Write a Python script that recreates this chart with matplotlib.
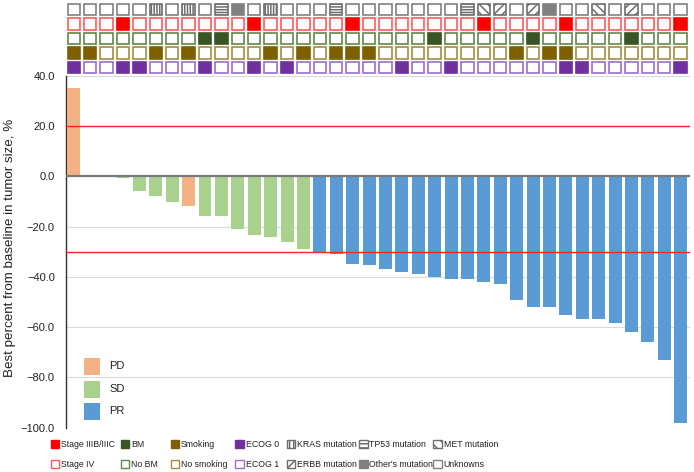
import matplotlib
matplotlib.use("Agg")
import matplotlib.pyplot as plt
from matplotlib.patches import Rectangle
from matplotlib.ticker import FuncFormatter

plt.rcParams['font.family'] = ['Liberation Sans', 'DejaVu Sans']
plt.rcParams['hatch.linewidth'] = 1.1

# ---------------- data ----------------
values = [35.2, 0.6, 0.0, -0.8, -5.6, -7.8, -10.0, -11.6, -15.7, -15.9,
          -21.0, -23.4, -24.2, -26.1, -29.0, -29.9, -30.9, -34.8, -35.2, -36.9,
          -38.1, -38.9, -39.9, -40.9, -40.9, -42.1, -42.9, -49.0, -51.9, -51.9,
          -55.2, -56.9, -56.9, -58.4, -61.8, -65.7, -73.0, -98.2]
response = ['PD', 'SD', 'SD', 'SD', 'SD', 'SD', 'SD', 'PD', 'SD', 'SD',
            'SD', 'SD', 'SD', 'SD', 'SD', 'PR', 'PR', 'PR', 'PR', 'PR',
            'PR', 'PR', 'PR', 'PR', 'PR', 'PR', 'PR', 'PR', 'PR', 'PR',
            'PR', 'PR', 'PR', 'PR', 'PR', 'PR', 'PR', 'PR']
mutation = ['U', 'U', 'U', 'U', 'U', 'KRAS', 'U', 'KRAS', 'U', 'TP53',
            'Other', 'U', 'KRAS', 'U', 'U', 'U', 'TP53', 'U', 'U', 'U',
            'U', 'U', 'U', 'U', 'TP53', 'MET', 'ERBB', 'U', 'ERBB', 'Other',
            'U', 'U', 'MET', 'U', 'ERBB', 'U', 'U', 'U']
stage = ['IV', 'IV', 'IV', 'IIIB', 'IV', 'IV', 'IV', 'IV', 'IV', 'IV',
         'IV', 'IIIB', 'IV', 'IV', 'IV', 'IV', 'IV', 'IIIB', 'IV', 'IV',
         'IV', 'IV', 'IV', 'IV', 'IV', 'IIIB', 'IV', 'IV', 'IV', 'IV',
         'IIIB', 'IV', 'IV', 'IV', 'IV', 'IV', 'IV', 'IIIB']
bm = ['N', 'N', 'N', 'N', 'N', 'N', 'N', 'N', 'Y', 'Y',
      'N', 'N', 'N', 'N', 'N', 'N', 'N', 'N', 'N', 'N',
      'N', 'N', 'Y', 'N', 'N', 'N', 'N', 'N', 'Y', 'N',
      'N', 'N', 'N', 'N', 'Y', 'N', 'N', 'N']
smoking = ['Y', 'Y', 'N', 'N', 'N', 'Y', 'N', 'Y', 'N', 'N',
           'N', 'N', 'Y', 'N', 'Y', 'N', 'Y', 'Y', 'Y', 'N',
           'N', 'N', 'N', 'N', 'N', 'N', 'N', 'Y', 'N', 'Y',
           'Y', 'N', 'N', 'N', 'N', 'N', 'N', 'N']
ecog = [0, 1, 1, 0, 0, 1, 1, 1, 0, 1,
        1, 0, 1, 0, 1, 1, 1, 1, 1, 1,
        0, 1, 1, 0, 1, 1, 1, 1, 1, 1,
        0, 0, 1, 1, 1, 1, 1, 0]
yticks = [40, 20, 0, -20, -40, -60, -80, -100]
ref_lines = [20, -30]

# ---------------- styles ----------------
resp_colors = {'PD': '#F4B183', 'SD': '#A9D18E', 'PR': '#5B9BD5'}
RED, RED_L = '#FF0000', '#FF5A5A'
GRN, GRN_L = '#375623', '#5E8A45'
BRN, BRN_L = '#7F6000', '#A88B3C'
PUR, PUR_L = '#7030A0', '#9B6FCB'
GRY = '#808080'
HGRY = '#6E6E6E'
hatches = {'KRAS': '||||||', 'TP53': '------', 'MET': '\\\\\\\\', 'ERBB': '////', 'Other': None, 'U': None}

W, H = 694, 472
fig = plt.figure(figsize=(W / 100, H / 100), dpi=100)


def px(x0, y0, x1, y1):
    return [x0 / W, 1 - y1 / H, (x1 - x0) / W, (y1 - y0) / H]


XL = (-0.476, 37.57)

# ---------------- main waterfall ----------------
ax = fig.add_axes(px(66, 76, 690, 427.7))
xs = list(range(len(values)))
ax.bar(xs, values, width=0.79, color=[resp_colors[r] for r in response], zorder=3)
ax.set_xlim(*XL)
ax.set_ylim(-100, 40)
ax.set_yticks(yticks)
ax.yaxis.set_major_formatter(FuncFormatter(lambda v, p: f'{v:.1f}'.replace('-', '\u2212')))
ax.tick_params(axis='y', length=0, pad=8, labelsize=8, labelcolor='#222222')
ax.set_xticks([])
ax.grid(axis='y', color='#DADADA', lw=0.8, zorder=0)
ax.axhline(0, color='#7A7A7A', lw=1.6, zorder=4)
for r in ref_lines:
    ax.axhline(r, color='#FF2020', lw=1.0, zorder=5)
for s in ['top', 'right', 'bottom']:
    ax.spines[s].set_visible(False)
ax.spines['left'].set_color('#303030')
ax.spines['left'].set_linewidth(1.0)
fig.text(10 / W, 1 - 248 / H, 'Best percent from baseline in tumor size, %',
         rotation=90, ha='center', va='center', fontsize=9.6, color='#222222')

# ---------------- annotation grid ----------------
gax = fig.add_axes(px(66, 0, 690, 76))
gax.set_xlim(*XL)
gax.set_ylim(4.588, -0.671)
gax.axis('off')
bw, bh = 0.76, 0.80


def box(axx, x, y, face, edge, hatch=None):
    axx.add_patch(Rectangle((x - bw / 2, y - bh / 2), bw, bh, facecolor=face,
                            edgecolor=edge, lw=1.2, hatch=hatch))


for i in xs:
    m = mutation[i]
    box(gax, i, 0, GRY if m == 'Other' else 'white', GRY if hatches[m] is None else HGRY, hatches[m])
    box(gax, i, 1, RED if stage[i] == 'IIIB' else 'white', RED if stage[i] == 'IIIB' else RED_L)
    box(gax, i, 2, GRN if bm[i] == 'Y' else 'white', GRN if bm[i] == 'Y' else GRN_L)
    box(gax, i, 3, BRN if smoking[i] == 'Y' else 'white', BRN if smoking[i] == 'Y' else BRN_L)
    box(gax, i, 4, PUR if ecog[i] == 0 else 'white', PUR if ecog[i] == 0 else PUR_L)

# ---------------- legends ----------------
oax = fig.add_axes([0, 0, 1, 1], zorder=10)
oax.set_xlim(0, W)
oax.set_ylim(H, 0)
oax.axis('off')
oax.patch.set_alpha(0)

for k, (lab, yc) in enumerate([('PD', 366), ('SD', 389), ('PR', 411.5)]):
    oax.add_patch(Rectangle((84, yc - 8.5), 16, 17, facecolor=resp_colors[lab], edgecolor='none'))
    oax.text(109, yc, lab, fontsize=8, va='center', ha='left', color='#222222')

row1 = [(50.7, 'Stage IIIB/IIIC', RED, RED, None), (120.7, 'BM', GRN, GRN, None),
        (170.7, 'Smoking', BRN, BRN, None), (235.3, 'ECOG 0', PUR, PUR, None),
        (286.7, 'KRAS mutation', 'white', HGRY, '||||'), (359, 'TP53 mutation', 'white', HGRY, '----'),
        (433.3, 'MET mutation', 'white', HGRY, '\\\\\\')]
row2 = [(50.7, 'Stage IV', 'white', RED_L, None), (120.7, 'No BM', 'white', GRN_L, None),
        (170.7, 'No smoking', 'white', BRN_L, None), (235.3, 'ECOG 1', 'white', PUR_L, None),
        (286.7, 'ERBB mutation', 'white', HGRY, '///'), (359, "Other's mutation", GRY, GRY, None),
        (433.3, 'Unknowns', 'white', GRY, None)]
for yc, row in [(444, row1), (464, row2)]:
    for x0, lab, fc, ec, ht in row:
        oax.add_patch(Rectangle((x0, yc - 4.3), 8.6, 8.6, facecolor=fc, edgecolor=ec, lw=1.0, hatch=ht))
        oax.text(x0 + 10.3, yc + 0.3, lab, fontsize=6.3, va='center', ha='left', color='#222222')

fig.savefig('out.png', dpi=100)
